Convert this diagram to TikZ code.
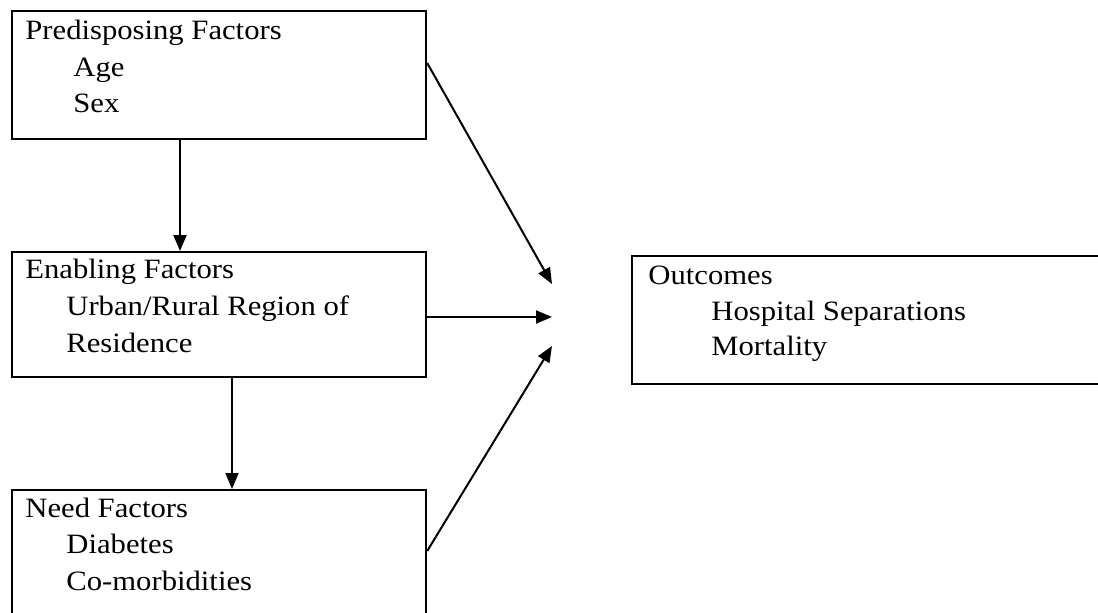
\documentclass[tikz,border=0pt]{standalone}
\usepackage{fontspec}
\setmainfont{Liberation Serif}[FakeStretch=1.095]
\usetikzlibrary{arrows.meta}

\tikzset{
    factorbox/.style={draw, line width=1.1pt, inner sep=0pt, anchor=north west},
    line/.style={anchor=base west, inner sep=0pt, font=\fontsize{14pt}{16pt}\selectfont},
    arr/.style={line width=1pt, -{Triangle[length=8pt,width=6.5pt]}}
}

\begin{document}
\begin{tikzpicture}[x=0.5pt, y=-0.5pt]
    % page frame
    \useasboundingbox (0,0) rectangle (1098,612);
    \fill[white] (0,0) rectangle (1098,612);
    \clip (0,0) rectangle (1098,612);

    % draw boxes
    \node[factorbox, minimum width=207pt, minimum height=64pt] (pre) at (11,10) {};
    \node[factorbox, minimum width=207pt, minimum height=62.5pt] (ena) at (11,251) {};
    \node[factorbox, minimum width=207pt, minimum height=66pt] (need) at (11,489) {};
    \node[factorbox, minimum width=240pt, minimum height=64pt] (out) at (631,255) {};

    % draw texts
    \node[line] (preT) at (25,39) {Predisposing Factors};
    \node[line] (preA) at (73,76) {Age};
    \node[line] (preB) at (73,112) {Sex};

    \node[line] (enaT) at (25,278) {Enabling Factors};
    \node[line] (enaA) at (66,315) {Urban/Rural Region of};
    \node[line] (enaB) at (66,352) {Residence};

    \node[line] (needT) at (25,517) {Need Factors};
    \node[line] (needA) at (66,553) {Diabetes};
    \node[line] (needB) at (66,590) {Co-morbidities};

    \node[line] (outT) at (648,284) {Outcomes};
    \node[line] (outA) at (711,320) {Hospital Separations};
    \node[line] (outB) at (711,355) {Mortality};

    % arrow tips in front of outcomes
    \coordinate (in1) at (552,284);
    \coordinate (in2) at (552,317);
    \coordinate (in3) at (552,346);

    % draw arrows
    \draw[arr] ([xshift=84.5pt]pre.south west) -- ([xshift=84.5pt]ena.north west);
    \draw[arr] ([xshift=110.5pt]ena.south west) -- ([xshift=110.5pt]need.north west);
    \draw[arr] ([yshift=-26.5pt]pre.north east) -- (in1);
    \draw[arr] ([yshift=-33pt]ena.north east) -- (in2);
    \draw[arr] ([yshift=-31pt]need.north east) -- (in3);
\end{tikzpicture}
\end{document}
